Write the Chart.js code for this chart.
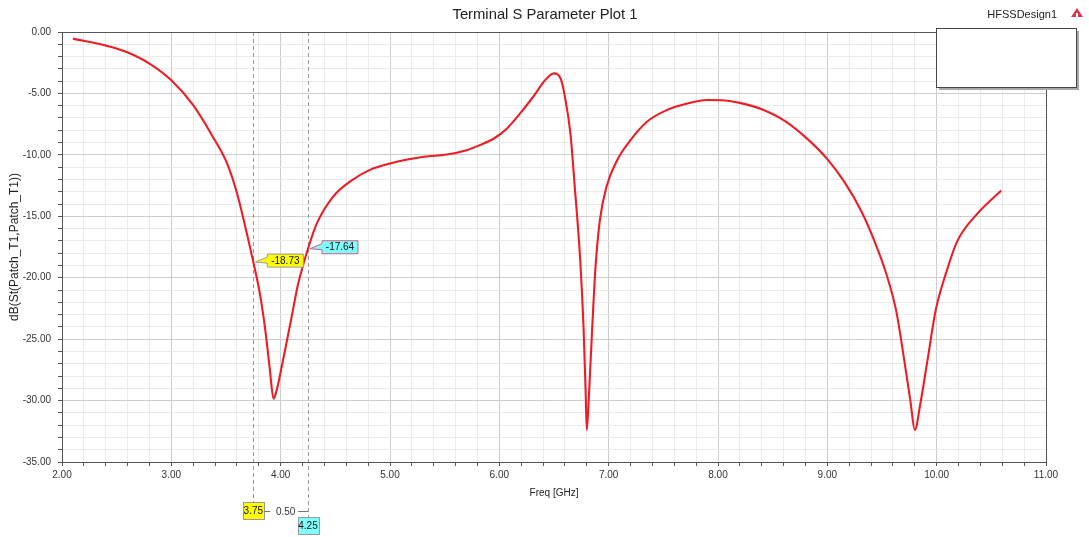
<!DOCTYPE html>
<html>
<head>
<meta charset="utf-8">
<script src="https://cdn.jsdelivr.net/npm/chart.js@4/dist/chart.umd.min.js"></script>
<style>
  html, body { margin: 0; padding: 0; background: #fff; }
  #wrap { width: 1089px; height: 537px; }
</style>
</head>
<body>
<div id="wrap"><canvas id="myChart" width="1089" height="537"></canvas></div>
<script>
  // S11 curve
  const freq = [
    2.10, 2.39, 2.59, 2.80, 3.00, 3.20, 3.38, 3.51, 3.60, 3.67, 3.75, 3.81, 3.86, 3.90, 3.935,
    3.965, 3.99, 4.04, 4.10, 4.16, 4.25, 4.33, 4.48, 4.63, 4.82, 5.00, 5.31, 5.52, 5.70, 5.82, 5.95,
    6.07, 6.19, 6.31, 6.42, 6.50, 6.56, 6.60, 6.65, 6.69, 6.74, 6.77, 6.79, 6.80, 6.82, 6.85,
    6.88, 6.92, 6.98, 7.08, 7.20, 7.35, 7.53, 7.72, 7.90, 8.03, 8.21, 8.40, 8.61, 8.82, 9.00,
    9.16, 9.31, 9.43, 9.54, 9.63, 9.70, 9.76, 9.80, 9.85, 9.92, 9.99, 10.09, 10.19, 10.37, 10.59
  ];
  const s11 = [
    -0.54, -1.08, -1.63, -2.57, -3.93, -5.96, -8.54, -10.7, -13.1, -15.6, -18.73, -21.3, -24.3, -27.4, -29.85,
    -29.1, -28.1, -25.9, -23.2, -20.5, -17.64, -15.6, -13.4, -12.2, -11.2, -10.7, -10.16, -9.97, -9.62, -9.21, -8.67,
    -7.85, -6.63, -5.27, -3.91, -3.37, -3.78, -5.27, -8.26, -12.6, -18.6, -24.0, -29.5, -32.4, -29.5, -24.0,
    -19.1, -15.3, -12.6, -10.4, -8.80, -7.31, -6.36, -5.82, -5.54, -5.55, -5.79, -6.28, -7.23, -8.72, -10.35,
    -12.26, -14.57, -17.0, -19.7, -22.7, -26.5, -30.05, -32.4, -30.3, -26.5, -22.7, -19.5, -17.0, -14.8, -12.9
  ];

  const markerFreq = [3.75, 4.25];
  const markerValue = [-18.73, -17.64];
  const markerFill = ['#ffff00', '#80ffff'];
  const markerEdge = ['#9a9a9a', '#c86080'];
  const deltaText = '0.50';

  const FONT = "'Liberation Sans', Arial, sans-serif";
  Chart.defaults.font.family = FONT;
  Chart.defaults.color = '#333';

  const isWhole = (v, step) => Math.abs(v / step - Math.round(v / step)) < 1e-6;

  const gridColor = (step) => (c) => isWhole(c.tick.value, step) ? '#cdcdcd' : '#ebebeb';

  const overlay = {
    id: 'overlay',
    beforeDatasetsDraw(chart) {
      const ctx = chart.ctx, a = chart.chartArea, xs = chart.scales.x;
      ctx.save();
      ctx.strokeStyle = '#9a9a9a';
      ctx.lineWidth = 1;
      ctx.setLineDash([4, 3]);
      markerFreq.forEach((f, i) => {
        const x = Math.round(xs.getPixelForValue(f)) + 0.5;
        ctx.beginPath();
        ctx.moveTo(x, a.top);
        ctx.lineTo(x, i === 0 ? 502 : 517);
        ctx.stroke();
      });
      ctx.restore();
    },
    afterDraw(chart) {
      const ctx = chart.ctx, a = chart.chartArea, xs = chart.scales.x, ys = chart.scales.y;
      ctx.save();

      // frame round the plot
      ctx.strokeStyle = '#555';
      ctx.lineWidth = 1;
      ctx.strokeRect(a.left + 0.5, a.top + 0.5, a.right - a.left, a.bottom - a.top);

      // titles
      ctx.fillStyle = '#222';
      ctx.textBaseline = 'middle';
      ctx.textAlign = 'center';
      ctx.font = '14.8px ' + FONT;
      ctx.fillText('Terminal S Parameter Plot 1', 545, 15);
      ctx.font = '11px ' + FONT;
      ctx.textAlign = 'right';
      ctx.fillText('HFSSDesign1', 1057, 15);

      // little logo
      ctx.fillStyle = '#d23a4a';
      ctx.beginPath();
      ctx.moveTo(1077, 8); ctx.lineTo(1083, 17); ctx.lineTo(1071, 17); ctx.closePath();
      ctx.fill();
      ctx.fillStyle = '#fff';
      ctx.fillRect(1076, 13, 2, 4);

      // empty legend box with shadow
      ctx.fillStyle = '#a8a8a8';
      ctx.fillRect(939, 31, 140, 59);
      ctx.fillStyle = '#fff';
      ctx.fillRect(936, 28, 140, 59);
      ctx.strokeStyle = '#444';
      ctx.strokeRect(936.5, 28.5, 140, 59);

      // marker value flags on the curve
      ctx.font = '10px ' + FONT;
      markerFreq.forEach((f, i) => {
        const px = xs.getPixelForValue(f);
        const py = ys.getPixelForValue(markerValue[i]);
        const bx = px + 14, by = py - 8, bw = 36, bh = 13;
        ctx.fillStyle = markerFill[i];
        ctx.strokeStyle = markerEdge[i];
        ctx.beginPath();
        ctx.moveTo(px + 2, py);
        ctx.lineTo(bx, by + 3);
        ctx.lineTo(bx, by);
        ctx.lineTo(bx + bw, by);
        ctx.lineTo(bx + bw, by + bh);
        ctx.lineTo(bx, by + bh);
        ctx.lineTo(bx, by + 9);
        ctx.closePath();
        ctx.fill();
        ctx.stroke();
        ctx.fillStyle = '#111';
        ctx.textAlign = 'center';
        ctx.fillText(markerValue[i].toFixed(2), bx + bw / 2, by + bh / 2 + 0.5);
      });

      // frequency flags under the axis
      const tops = [502, 517];
      const fx = markerFreq.map(f => xs.getPixelForValue(f));
      markerFreq.forEach((f, i) => {
        const w = 21, h = 17;
        ctx.fillStyle = markerFill[i];
        ctx.fillRect(Math.round(fx[i] - w / 2), tops[i], w, h);
        ctx.strokeStyle = '#9a9a9a';
        ctx.strokeRect(Math.round(fx[i] - w / 2) + 0.5, tops[i] + 0.5, w, h);
        ctx.fillStyle = '#111';
        ctx.textAlign = 'center';
        ctx.fillText(f.toFixed(2), fx[i], tops[i] + h / 2 + 0.5);
      });
      ctx.strokeStyle = '#777';
      ctx.beginPath();
      ctx.moveTo(fx[0] + 11, 511.5); ctx.lineTo(fx[0] + 17, 511.5);
      ctx.moveTo(fx[1] - 10, 511.5); ctx.lineTo(fx[1], 511.5);
      ctx.stroke();
      ctx.fillStyle = '#333';
      ctx.fillText(deltaText, (fx[0] + fx[1]) / 2 + 5, 512);

      ctx.restore();
    }
  };

  const data = {
    datasets: [{
      label: 'dB(St(Patch_T1,Patch_T1))',
      data: freq.map((f, i) => ({ x: f, y: s11[i] })),
      borderColor: '#ee1c25',
      borderWidth: 2.1,
      pointRadius: 0,
      fill: false,
      cubicInterpolationMode: 'monotone'
    }]
  };

  const config = {
    type: 'line',
    data: data,
    options: {
      responsive: false,
      animation: false,
      layout: { padding: { top: 32, right: 43, left: 0, bottom: 0 } },
      plugins: { legend: { display: false }, tooltip: { enabled: false } },
      scales: {
        x: {
          type: 'linear',
          min: 2,
          max: 11,
          afterFit: (s) => { s.height = 75; },
          ticks: {
            stepSize: 0.2,
            autoSkip: false,
            maxRotation: 0,
            padding: 3,
            color: '#333',
            font: { size: 10 },
            callback: (v) => isWhole(v, 1) ? Number(v).toFixed(2) : ''
          },
          grid: { color: gridColor(1), tickLength: 4, tickColor: '#555' },
          border: { color: '#555' },
          title: { display: true, text: 'Freq [GHz]', color: '#222', font: { size: 10 }, padding: { top: 0, bottom: 38 } }
        },
        y: {
          min: -35,
          max: 0,
          afterFit: (s) => { s.width = 62; },
          ticks: {
            stepSize: 1,
            autoSkip: false,
            padding: 7,
            color: '#333',
            font: { size: 10 },
            callback: (v) => isWhole(v, 5) ? Number(v).toFixed(2) : ''
          },
          grid: { color: gridColor(5), tickLength: 4, tickColor: '#555' },
          border: { color: '#555' },
          title: { display: true, text: 'dB(St(Patch_T1,Patch_T1))', color: '#222', font: { size: 12 }, padding: { top: 7, bottom: 0 } }
        }
      }
    },
    plugins: [overlay]
  };

  const myChart = new Chart(
    document.getElementById('myChart'),
    config
  );
</script>
</body>
</html>
